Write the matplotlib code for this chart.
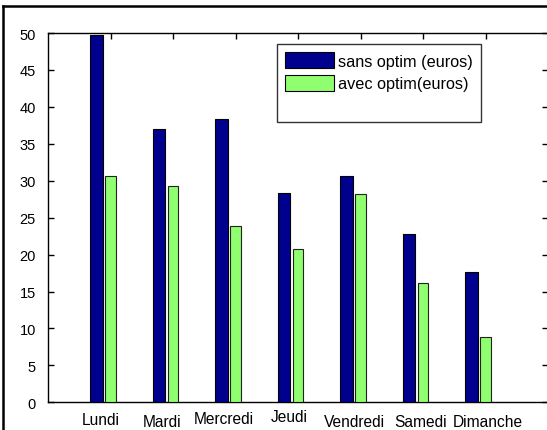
import numpy as np
import matplotlib
matplotlib.use("Agg")
import matplotlib.pyplot as plt
from matplotlib.lines import Line2D
from matplotlib.patches import Patch

# Data
jours = ['Lundi', 'Mardi', 'Mercredi', 'Jeudi', 'Vendredi', 'Samedi', 'Dimanche']
sans_optim = [49.7, 37.0, 38.4, 28.3, 30.6, 22.8, 17.7]
avec_optim = [30.6, 29.3, 23.9, 20.7, 28.2, 16.1, 8.9]
yticks = [0, 5, 10, 15, 20, 25, 30, 35, 40, 45, 50]

# Layout (pixels of the 547x431 image)
W, H = 547, 431
AX_LEFT, AX_RIGHT, AX_TOP, AX_BOTTOM = 48.3, 548.3, 34.0, 403.3
# hand placed day labels: x shift (px) from tick, baseline (px from top)
label_dx = [-9.7, -11.2, -11.7, -9.2, -6.7, -3.2, 2.3]
label_base = [425, 427.3, 424, 422, 427.3, 427.3, 427.3]

BLUE = '#00008f'
GREEN = '#8fff70'

plt.rcParams['font.family'] = ['Liberation Sans', 'DejaVu Sans']

fig = plt.figure(figsize=(W / 100, H / 100), dpi=100)
ax = fig.add_axes([AX_LEFT / W, 1 - AX_BOTTOM / H,
                   (AX_RIGHT - AX_LEFT) / W, (AX_BOTTOM - AX_TOP) / H])

x = np.arange(1, len(jours) + 1)
b1 = ax.bar(x - 0.232, sans_optim, width=0.2, color=BLUE,
            edgecolor='black', linewidth=0.8, zorder=3)
b2 = ax.bar(x - 0.005, avec_optim, width=0.165, color=GREEN,
            edgecolor='#222222', linewidth=0.8, zorder=3)

ax.set_xlim(0, 8)
ax.set_ylim(0, 50)
ax.set_yticks(yticks)
ax.set_xticks(x)
ax.set_xticklabels([])
ax.tick_params(axis='both', direction='in', length=4, width=1,
               top=True, right=True, labelsize=10.5)
ax.tick_params(axis='y', pad=9)
for s in ax.spines.values():
    s.set_linewidth(1.0)

# day names, staggered like the original
px_per_unit = (AX_RIGHT - AX_LEFT) / 8
for i, name in enumerate(jours):
    xd = x[i] + label_dx[i] / px_per_unit
    yf = (AX_BOTTOM - label_base[i]) / (AX_BOTTOM - AX_TOP)
    ax.text(xd, yf, name, transform=ax.get_xaxis_transform(),
            ha='center', va='baseline', fontsize=11.2)

# legend with a blank line at the bottom
handles = [Patch(facecolor=BLUE, edgecolor='black', linewidth=0.8),
           Patch(facecolor=GREEN, edgecolor='black', linewidth=0.8),
           Patch(facecolor='none', edgecolor='none')]
leg = ax.legend(handles, ['sans optim (euros)', 'avec optim(euros)', ' '],
                loc='upper left',
                bbox_to_anchor=(276.7 / W, 1 - 45 / H),
                bbox_transform=fig.transFigure,
                borderaxespad=0, fontsize=11.7, frameon=True, fancybox=False,
                handlelength=3.0, handleheight=1.15, handletextpad=0.3,
                labelspacing=0.38, borderpad=0.5)
leg.get_frame().set_edgecolor('black')
leg.get_frame().set_linewidth(1.0)
leg.set_zorder(5)

# outer figure frame (only top and left visible in the crop)
fig.add_artist(Line2D([3 / W, 3 / W], [0, 1 - 7 / H], transform=fig.transFigure,
                      color='black', linewidth=1.8))
fig.add_artist(Line2D([3 / W, 1], [1 - 7 / H, 1 - 7 / H], transform=fig.transFigure,
                      color='black', linewidth=1.8))

fig.savefig('out.png', dpi=100)
